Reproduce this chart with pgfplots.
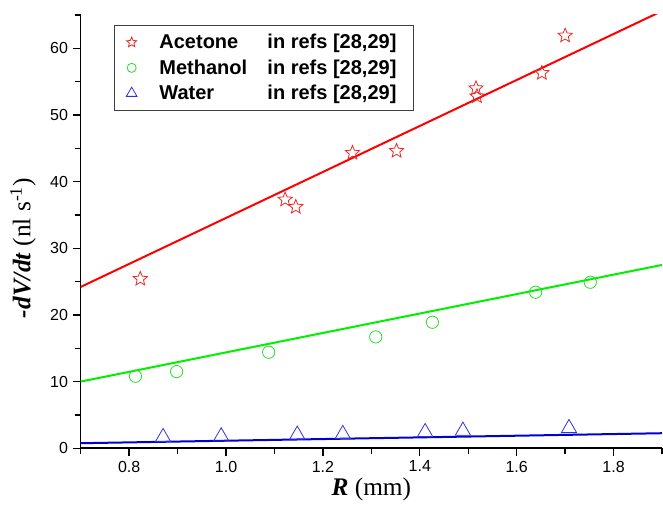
\documentclass[border=0pt]{standalone}
\usepackage{fontspec}
\setmainfont{Liberation Sans}
\newfontfamily\serif{Liberation Serif}
\usepackage{pgfplots}
\pgfplotsset{compat=1.18}

\pgfdeclareplotmark{ostar}{%
  \pgfpathmoveto{\pgfpointpolar{90}{\pgfplotmarksize}}%
  \pgfpathlineto{\pgfpointpolar{126}{0.45\pgfplotmarksize}}%
  \pgfpathlineto{\pgfpointpolar{162}{\pgfplotmarksize}}%
  \pgfpathlineto{\pgfpointpolar{198}{0.45\pgfplotmarksize}}%
  \pgfpathlineto{\pgfpointpolar{234}{\pgfplotmarksize}}%
  \pgfpathlineto{\pgfpointpolar{270}{0.45\pgfplotmarksize}}%
  \pgfpathlineto{\pgfpointpolar{306}{\pgfplotmarksize}}%
  \pgfpathlineto{\pgfpointpolar{342}{0.45\pgfplotmarksize}}%
  \pgfpathlineto{\pgfpointpolar{18}{\pgfplotmarksize}}%
  \pgfpathlineto{\pgfpointpolar{54}{0.45\pgfplotmarksize}}%
  \pgfpathclose
  \pgfusepathqstroke}

\pgfplotsset{markleg/.style={legend image code/.code={\path (0,0) (0.95cm,0); \draw[##1] plot coordinates {(0.3cm,0cm)};}}}

\definecolor{lred}{RGB}{255,0,0}
\definecolor{sred}{RGB}{235,40,40}
\definecolor{lgreen}{RGB}{0,240,0}
\definecolor{cgreen}{RGB}{40,220,40}
\definecolor{lblue}{RGB}{0,0,210}
\definecolor{tblue}{RGB}{50,50,220}

\begin{document}
\begin{tikzpicture}
\begin{axis}[name=ax, scale only axis, width=435.75pt, height=324.75pt,
  xmin=0.7, xmax=1.9, ymin=0, ymax=65,
  axis x line*=bottom, axis y line*=left,
  axis line style={line width=1.1pt, -, black},
  tick align=outside,
  xtick={0.8,1.0,1.2,1.4,1.6,1.8},
  minor xtick={0.7,0.9,1.1,1.3,1.5,1.7,1.9},
  ytick={0,10,20,30,40,50,60},
  minor ytick={5,15,25,35,45,55,65},
  major tick length=6pt, minor tick length=4.5pt,
  every tick/.style={line width=1pt, black},
  x tick label style={/pgf/number format/.cd, fixed, fixed zerofill, precision=1, /tikz/.cd},
  /pgf/number format/assume math mode=true,
  tick label style={font=\fontsize{12}{14}\selectfont},
  xlabel={{\serif\textbf{\textit{R}} (mm)}},
  ylabel={{\serif\textbf{\textit{-dV/dt}} (nl s\textsuperscript{-1})}},
  label style={font=\fontsize{19}{22}\selectfont},
  xlabel style={at={(axis description cs:0.5,-0.0947)}, anchor=center},
  ylabel style={at={(axis description cs:-0.0993,0.462)}, anchor=center},
  legend style={at={(axis description cs:0.0573,0.977)}, anchor=north west,
    draw=black!75, line width=0.8pt,
    font=\fontsize{15}{18.75}\selectfont\bfseries,
    inner xsep=4pt, inner ysep=4.5pt, row sep=2.7pt},
  legend cell align=left,
]
\addlegendimage{only marks, mark=ostar, mark size=4pt, sred, line width=0.6pt, markleg}
\addlegendentry{\makebox[81pt][l]{Acetone}in refs [28,29]\hspace*{6.5pt}}
\addlegendimage{only marks, mark=o, mark size=3.4pt, cgreen, line width=0.6pt, markleg}
\addlegendentry{\makebox[81pt][l]{Methanol}in refs [28,29]\hspace*{6.5pt}}
\addlegendimage{only marks, mark=triangle, mark size=4.6pt, tblue, line width=0.6pt, markleg}
\addlegendentry{\makebox[81pt][l]{Water}in refs [28,29]\hspace*{6.5pt}}

% fit lines
\addplot[forget plot, lred, line width=1.5pt] coordinates {(0.7,24.2) (1.9,65.6)};
\addplot[forget plot, lgreen, line width=1.5pt] coordinates {(0.7,10.0) (1.9,27.5)};
\addplot[forget plot, lblue, line width=1.5pt] coordinates {(0.7,0.75) (1.9,2.25)};

% Acetone
\addplot[forget plot, only marks, mark=ostar, mark size=5.6pt, sred, line width=0.6pt] coordinates {
(0.823,25.4) (1.122,37.3) (1.144,36.2) (1.261,44.3) (1.352,44.6)
(1.516,54.0) (1.518,52.8) (1.652,56.3) (1.700,61.9)};
% Methanol
\addplot[forget plot, only marks, mark=o, mark size=4.6pt, cgreen, line width=0.6pt] coordinates {
(0.813,10.8) (0.898,11.5) (1.088,14.4) (1.309,16.7) (1.426,18.9) (1.639,23.4) (1.752,24.9)};
% Water
\addplot[forget plot, only marks, mark=triangle, mark size=6.6pt, tblue, line width=0.6pt] coordinates {
(0.870,1.65) (0.990,1.75) (1.147,2.0) (1.241,2.1) (1.411,2.4) (1.489,2.6) (1.708,3.0)};
\end{axis}
\pgfresetboundingbox
\path ([xshift=-60.5pt,yshift=-43.5pt]ax.south west) rectangle ([xshift=0.75pt,yshift=11.25pt]ax.north east);
\end{tikzpicture}
\end{document}
